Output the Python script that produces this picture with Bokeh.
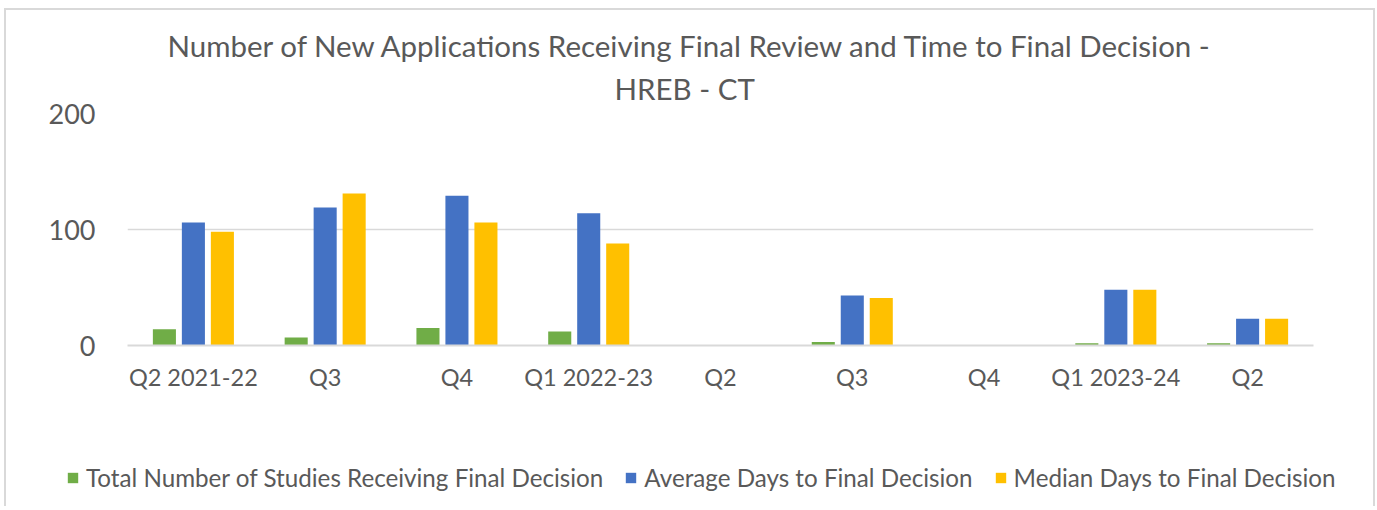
from bokeh.plotting import figure
from bokeh.models import ColumnDataSource, Legend, LegendItem, Title, FixedTicker
from bokeh.transform import dodge
from bokeh.embed import file_html
from bokeh.resources import INLINE

quarters = ["Q2 2021-22", "Q3", "Q4", "Q1 2022-23", "Q2", "Q3", "Q4", "Q1 2023-24", "Q2"]
total_studies = [14, 7, 15, 12, 0, 3, 0, 2, 2]
avg_days = [106, 119, 129, 114, 0, 43, 0, 48, 23]
median_days = [98, 131, 106, 88, 0, 41, 0, 48, 23]

series_names = ["Total Number of Studies Receiving Final Decision",
                "Average Days to Final Decision",
                "Median Days to Final Decision"]
colors = ["#70ad47", "#4472c4", "#ffc000"]

xs = list(range(len(quarters)))
src = ColumnDataSource(dict(x=xs, total=total_studies, avg=avg_days, med=median_days))

FONT = "Lato"
TXT = "#595959"
BORDER = "2px solid #d9d9d9"

# ---- main chart ----
p = figure(width=1371, height=390, output_backend="svg", toolbar_location=None,
           x_range=(-0.5, len(quarters) - 0.5), y_range=(0, 200),
           min_border_left=121, min_border_right=64, min_border_top=103, min_border_bottom=55)
p.styles = {"border-top": BORDER, "border-left": BORDER, "border-right": BORDER,
            "margin-left": "4px", "margin-top": "8px"}
p.outline_line_color = None
p.background_fill_color = "white"
p.border_fill_color = "white"

r1 = p.vbar(x=dodge("x", -0.22), top="total", width=0.175, source=src, color=colors[0], line_color=None)
r2 = p.vbar(x=dodge("x", 0.0), top="avg", width=0.175, source=src, color=colors[1], line_color=None)
r3 = p.vbar(x=dodge("x", 0.22), top="med", width=0.175, source=src, color=colors[2], line_color=None)

p.xgrid.grid_line_color = None
p.ygrid.grid_line_color = "#d9d9d9"
p.ygrid.grid_line_width = 1.5

p.yaxis.ticker = FixedTicker(ticks=[0, 100, 200])
p.yaxis.axis_line_color = None
p.yaxis.major_tick_line_color = None
p.yaxis.minor_tick_line_color = None
p.yaxis.major_label_text_font = FONT
p.yaxis.major_label_text_font_size = "27px"
p.yaxis.major_label_text_color = TXT
p.yaxis.major_label_standoff = 26

p.xaxis.ticker = FixedTicker(ticks=xs)
p.xaxis.major_label_overrides = {i: q for i, q in enumerate(quarters)}
p.xaxis.axis_line_color = "#d9d9d9"
p.xaxis.axis_line_width = 2
p.xaxis.major_tick_line_color = None
p.xaxis.minor_tick_line_color = None
p.xaxis.major_label_text_font = FONT
p.xaxis.major_label_text_font_size = "23.5px"
p.xaxis.major_label_text_color = TXT
p.xaxis.major_label_standoff = 11

t2 = Title(text="HREB - CT", align="left", text_font=FONT, text_font_size="29.5px",
           text_font_style="normal", text_color=TXT, standoff=15, offset=487)
t1 = Title(text="Number of New Applications Receiving Final Review and Time to Final Decision  -",
           align="left", text_font=FONT, text_font_size="29.5px", text_font_style="normal",
           text_color=TXT, standoff=-3, offset=40)
p.add_layout(t2, "above")
p.add_layout(t1, "above")

# ---- legend strip (separate root, so its frame spans the full width) ----
pl = figure(width=1371, height=108, output_backend="svg", toolbar_location=None,
            x_range=(-0.5, len(quarters) - 0.5), y_range=(1000, 1001),
            x_axis_location=None, y_axis_location=None,
            min_border_left=0, min_border_right=0, min_border_top=0, min_border_bottom=0)
pl.styles = {"border-left": BORDER, "border-right": BORDER, "margin-left": "4px"}
pl.outline_line_color = None
pl.grid.grid_line_color = None
pl.background_fill_color = "white"
pl.border_fill_color = "white"
l1 = pl.vbar(x="x", top="total", width=0.175, source=src, color=colors[0], line_color=None)
l2 = pl.vbar(x="x", top="avg", width=0.175, source=src, color=colors[1], line_color=None)
l3 = pl.vbar(x="x", top="med", width=0.175, source=src, color=colors[2], line_color=None)

legend = Legend(items=[LegendItem(label=series_names[0], renderers=[l1]),
                       LegendItem(label=series_names[1], renderers=[l2]),
                       LegendItem(label=series_names[2], renderers=[l3])],
                orientation="horizontal", location=(60, 14),
                label_text_font=FONT, label_text_font_size="24.2px", label_text_color=TXT,
                glyph_width=13, glyph_height=13, label_standoff=7, spacing=21,
                padding=0, margin=0, border_line_color=None, background_fill_alpha=0)
pl.add_layout(legend)

open("out.html", "w").write(file_html([p, pl], INLINE))
